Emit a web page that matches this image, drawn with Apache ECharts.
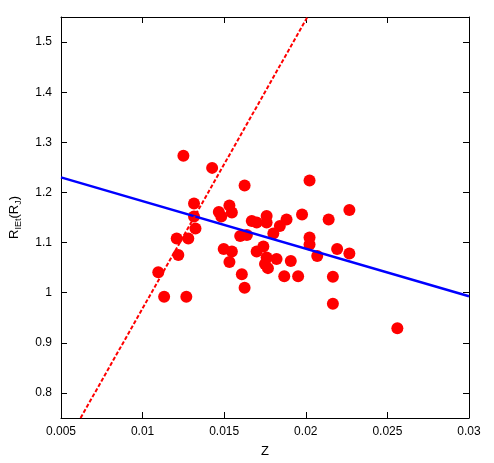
<!DOCTYPE html>
<html><head><meta charset="utf-8">
<script src="https://cdn.jsdelivr.net/npm/echarts@6/dist/echarts.min.js"></script>
<style>html,body{margin:0;padding:0;background:#fff}#c{width:494px;height:463px}</style>
</head><body><div id="c"></div>
<script>
// Scatter data: Z (metallicity) vs R_IEt (R_J)
const zVals = [0.01250,0.01426,0.01625,0.02023,0.02267,0.01315,0.01315,0.01324,0.01467,0.01532,
               0.01547,0.01482,0.01669,0.01699,0.01760,0.01760,0.01882,0.01841,0.01977,0.02140,
               0.01801,0.01598,0.01639,0.02023,0.02023,0.01209,0.01280,0.01219,0.01096,0.01132,
               0.01268,0.01497,0.01547,0.01532,0.01608,0.01625,0.01740,0.01699,0.01760,0.01821,
               0.01750,0.01768,0.01908,0.01868,0.01953,0.02070,0.02192,0.02267,0.02166,0.02166,
               0.02561];
const rVals = [1.273,1.249,1.214,1.224,1.165,1.178,1.152,1.128,1.161,1.174,
               1.160,1.152,1.143,1.140,1.153,1.140,1.146,1.133,1.156,1.146,
               1.118,1.113,1.115,1.110,1.096,1.108,1.108,1.075,1.041,0.992,
               0.992,1.087,1.082,1.061,1.037,1.010,1.092,1.082,1.070,1.067,
               1.057,1.049,1.063,1.033,1.033,1.073,1.087,1.078,1.032,0.978,
               0.929];
const xTicks = [0.005,0.01,0.015,0.02,0.025,0.03];
const yTicks = [0.8,0.9,1.0,1.1,1.2,1.3,1.4,1.5];
const blueLineZ = [0.005, 0.03];
const blueLineR = [1.230, 0.993];
const redLineZ = [0.0062, 0.0201];
const redLineR = [0.75, 1.55];

const pts = zVals.map((z,i)=>[z, rVals[i]]);
const blue = blueLineZ.map((z,i)=>[z, blueLineR[i]]);
const red = redLineZ.map((z,i)=>[z, redLineR[i]]);
const fmt = v => String(Number(v.toFixed(3)));
const font = {fontFamily:'Liberation Sans, Arial, sans-serif', fontSize:12, color:'#000'};
const axLine = {show:true, onZero:false, lineStyle:{color:'#000', width:1}};

const chart = echarts.init(document.getElementById('c'), null, {renderer:'canvas'});
chart.setOption({
  animation:false,
  backgroundColor:'#fff',
  grid:{left:58, right:25, top:17, bottom:44, containLabel:false},
  xAxis:[
    {type:'value', min:0.005, max:0.03, position:'bottom',
     name:'Z', nameLocation:'middle', nameGap:27, nameTextStyle:Object.assign({}, font, {fontSize:13}),
     axisLine:axLine, splitLine:{show:false},
     axisTick:{show:true, inside:true, length:6, customValues:xTicks, lineStyle:{color:'#000'}},
     axisLabel:Object.assign({margin:8, customValues:xTicks, formatter:fmt}, font)},
    {type:'value', min:0.005, max:0.03, position:'top',
     axisLine:axLine, splitLine:{show:false},
     axisTick:{show:true, inside:true, length:6, customValues:xTicks, lineStyle:{color:'#000'}},
     axisLabel:{show:false}}
  ],
  yAxis:[
    {type:'value', min:0.75, max:1.55, position:'left',
     name:'R{s|IEt}(R{s|J})', nameLocation:'middle', nameGap:38, nameRotate:90,
     nameTextStyle:Object.assign({}, font, {fontSize:13, rich:{s:{fontFamily:'Liberation Sans, Arial, sans-serif', fontSize:9, color:'#000', verticalAlign:'bottom', padding:[8,0,0,0]}}}),
     axisLine:axLine, splitLine:{show:false},
     axisTick:{show:true, inside:true, length:6, customValues:yTicks, lineStyle:{color:'#000'}},
     axisLabel:Object.assign({margin:9, customValues:yTicks, formatter:fmt}, font)},
    {type:'value', min:0.75, max:1.55, position:'right',
     axisLine:axLine, splitLine:{show:false},
     axisTick:{show:true, inside:true, length:6, customValues:yTicks, lineStyle:{color:'#000'}},
     axisLabel:{show:false}}
  ],
  series:[
    {type:'scatter', data:pts, symbol:'circle', symbolSize:12,
     itemStyle:{color:'#ff0000', opacity:1}, z:2},
    {type:'line', data:blue, showSymbol:false, symbol:'none', clip:true,
     lineStyle:{color:'#0000ff', width:2.5}, z:3},
    {type:'line', data:red, showSymbol:false, symbol:'none', clip:true,
     lineStyle:{color:'#ff0000', width:2, type:[4,2]}, z:3}
  ]
});
</script></body></html>
